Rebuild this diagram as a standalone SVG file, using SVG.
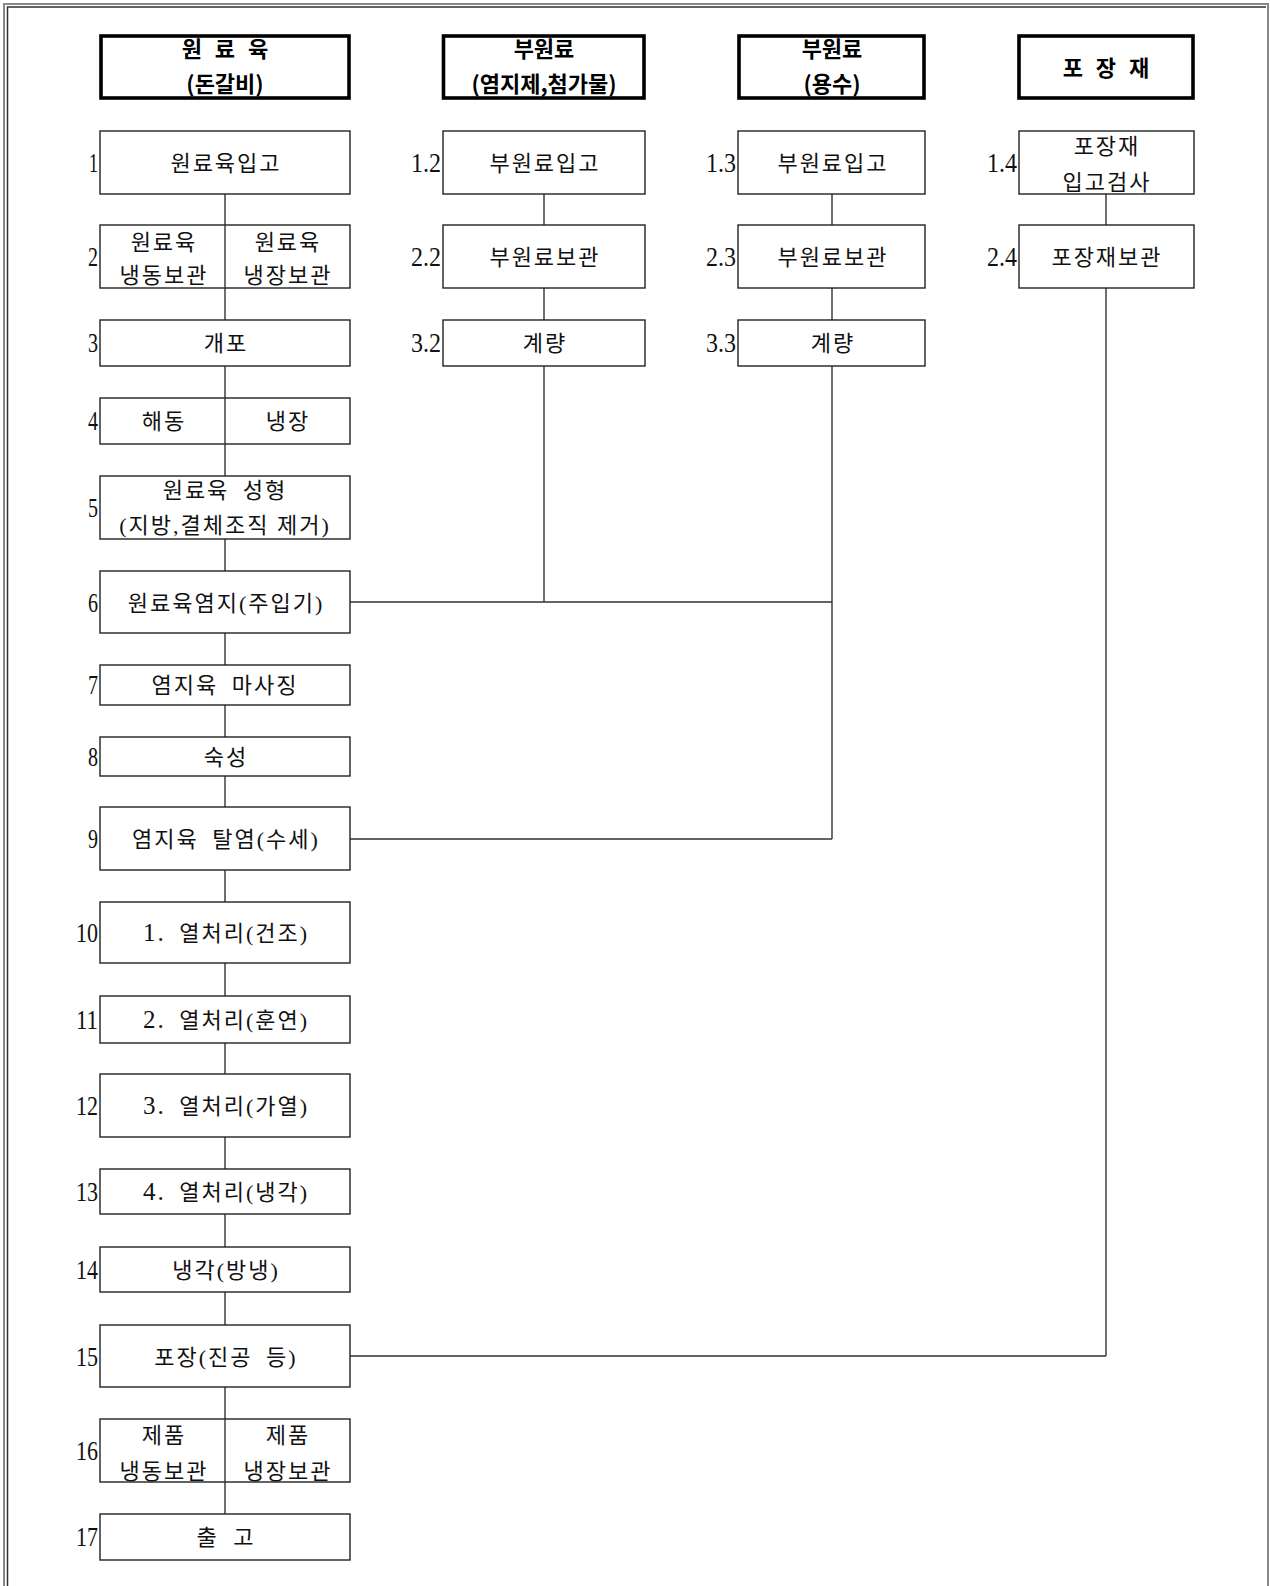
<svg xmlns="http://www.w3.org/2000/svg" width="1270" height="1586" viewBox="0 0 1270 1586">
<style>
.bx{fill:#fff;stroke:#222;stroke-width:1.4}
.hd{fill:#fff;stroke:#000;stroke-width:3.6}
.ln{stroke:#333;stroke-width:1.4;fill:none}
.t{font-family:'Liberation Serif','Noto Sans CJK KR',serif;font-size:22px;letter-spacing:2px;text-anchor:middle;fill:#111}
.d{font-size:25px}
.h{font-family:'Noto Sans CJK KR','Liberation Sans',sans-serif;font-size:22px;font-weight:bold;text-anchor:middle;fill:#000}
.n{font-family:'Liberation Serif',serif;font-size:27px;text-anchor:end;fill:#111}
</style>
<rect width="1270" height="1586" fill="#fff"/>
<g id="frame" fill="none">
<path d="M4 1586V4H1268V1586" stroke="#888" stroke-width="2"/>
<path d="M7.5 1586V7H1266" stroke="#333" stroke-width="1.5"/>
</g>

<g id="connectors" class="ln">
<path d="M225 194V225M225 288V320M225 366V398M225 444V476M225 539V571M225 633V665M225 705V737M225 776V807M225 870V902M225 963V996M225 1043V1074M225 1137V1169M225 1214V1247M225 1292V1325M225 1387V1419M225 1482V1514"/>
<path d="M544 194V225M544 288V320M544 366V602"/>
<path d="M832 194V225M832 288V320M832 366V839"/>
<path d="M1106 194V225M1106 288V1356"/>
<path d="M350 602H832M350 839H832M350 1356H1106"/>
</g>

<g id="h1"><rect class="hd" x="101" y="36" width="248" height="62"/><text class="h" x="225" y="57" word-spacing="8">원 료 육</text><text class="h" x="225" y="92">(돈갈비)</text></g>
<g id="h2"><rect class="hd" x="443.5" y="36" width="200.5" height="62"/><text class="h" x="544" y="57">부원료</text><text class="h" x="544" y="92">(염지제,첨가물)</text></g>
<g id="h3"><rect class="hd" x="739" y="36" width="185" height="62"/><text class="h" x="832" y="57">부원료</text><text class="h" x="832" y="92">(용수)</text></g>
<g id="h4"><rect class="hd" x="1019" y="36" width="174" height="62"/><text class="h" x="1106" y="76" word-spacing="8">포 장 재</text></g>

<g id="n1"><rect class="bx" x="100" y="131" width="250" height="63"/><text class="n" x="98" y="172" textLength="9" lengthAdjust="spacingAndGlyphs">1</text><text class="t" x="226" y="171">원료육입고</text></g>
<g id="n2"><rect class="bx" x="100" y="225" width="250" height="63"/><path class="ln" d="M225 225V288"/><text class="n" x="98" y="266" textLength="10" lengthAdjust="spacingAndGlyphs">2</text><text class="t" x="164" y="250">원료육</text><text class="t" x="164" y="283">냉동보관</text><text class="t" x="288" y="250">원료육</text><text class="t" x="288" y="283">냉장보관</text></g>
<g id="n3"><rect class="bx" x="100" y="320" width="250" height="46"/><text class="n" x="98" y="352" textLength="10" lengthAdjust="spacingAndGlyphs">3</text><text class="t" x="226" y="351">개포</text></g>
<g id="n4"><rect class="bx" x="100" y="398" width="250" height="46"/><path class="ln" d="M225 398V444"/><text class="n" x="98" y="430" textLength="10" lengthAdjust="spacingAndGlyphs">4</text><text class="t" x="164" y="429">해동</text><text class="t" x="288" y="429">냉장</text></g>
<g id="n5"><rect class="bx" x="100" y="476" width="250" height="63"/><text class="n" x="98" y="517" textLength="10" lengthAdjust="spacingAndGlyphs">5</text><text class="t" x="225" y="498" word-spacing="6">원료육 성형</text><text class="t" x="225" y="533" letter-spacing="1">(지방,결체조직 제거)</text></g>
<g id="n6"><rect class="bx" x="100" y="571" width="250" height="62"/><text class="n" x="98" y="612" textLength="10" lengthAdjust="spacingAndGlyphs">6</text><text class="t" x="226" y="611">원료육염지(주입기)</text></g>
<g id="n7"><rect class="bx" x="100" y="665" width="250" height="40"/><text class="n" x="98" y="694" textLength="10" lengthAdjust="spacingAndGlyphs">7</text><text class="t" x="225" y="693" word-spacing="6">염지육 마사징</text></g>
<g id="n8"><rect class="bx" x="100" y="737" width="250" height="39"/><text class="n" x="98" y="766" textLength="10" lengthAdjust="spacingAndGlyphs">8</text><text class="t" x="226" y="765">숙성</text></g>
<g id="n9"><rect class="bx" x="100" y="807" width="250" height="63"/><text class="n" x="98" y="848" textLength="10" lengthAdjust="spacingAndGlyphs">9</text><text class="t" x="226" y="847" word-spacing="6">염지육 탈염(수세)</text></g>
<g id="n10"><rect class="bx" x="100" y="902" width="250" height="61"/><text class="n" x="98" y="942" textLength="22" lengthAdjust="spacingAndGlyphs">10</text><text class="t" x="226" y="941" word-spacing="6"><tspan class="d">1.</tspan> 열처리(건조)</text></g>
<g id="n11"><rect class="bx" x="100" y="996" width="250" height="47"/><text class="n" x="98" y="1029" textLength="22" lengthAdjust="spacingAndGlyphs">11</text><text class="t" x="226" y="1028" word-spacing="6"><tspan class="d">2.</tspan> 열처리(훈연)</text></g>
<g id="n12"><rect class="bx" x="100" y="1074" width="250" height="63"/><text class="n" x="98" y="1115" textLength="22" lengthAdjust="spacingAndGlyphs">12</text><text class="t" x="226" y="1114" word-spacing="6"><tspan class="d">3.</tspan> 열처리(가열)</text></g>
<g id="n13"><rect class="bx" x="100" y="1169" width="250" height="45"/><text class="n" x="98" y="1201" textLength="22" lengthAdjust="spacingAndGlyphs">13</text><text class="t" x="226" y="1200" word-spacing="6"><tspan class="d">4.</tspan> 열처리(냉각)</text></g>
<g id="n14"><rect class="bx" x="100" y="1247" width="250" height="45"/><text class="n" x="98" y="1279" textLength="22" lengthAdjust="spacingAndGlyphs">14</text><text class="t" x="226" y="1278">냉각(방냉)</text></g>
<g id="n15"><rect class="bx" x="100" y="1325" width="250" height="62"/><text class="n" x="98" y="1366" textLength="22" lengthAdjust="spacingAndGlyphs">15</text><text class="t" x="226" y="1365" word-spacing="6">포장(진공 등)</text></g>
<g id="n16"><rect class="bx" x="100" y="1419" width="250" height="63"/><path class="ln" d="M225 1419V1482"/><text class="n" x="98" y="1460" textLength="22" lengthAdjust="spacingAndGlyphs">16</text><text class="t" x="164" y="1443">제품</text><text class="t" x="164" y="1479">냉동보관</text><text class="t" x="288" y="1443">제품</text><text class="t" x="288" y="1479">냉장보관</text></g>
<g id="n17"><rect class="bx" x="100" y="1514" width="250" height="46"/><text class="n" x="98" y="1546" textLength="22" lengthAdjust="spacingAndGlyphs">17</text><text class="t" x="226" y="1545" word-spacing="7">출 고</text></g>

<g id="n1_2"><rect class="bx" x="443" y="131" width="202" height="63"/><text class="n" x="441" y="172" textLength="30" lengthAdjust="spacingAndGlyphs">1.2</text><text class="t" x="545" y="171">부원료입고</text></g>
<g id="n2_2"><rect class="bx" x="443" y="225" width="202" height="63"/><text class="n" x="441" y="266" textLength="30" lengthAdjust="spacingAndGlyphs">2.2</text><text class="t" x="545" y="265">부원료보관</text></g>
<g id="n3_2"><rect class="bx" x="443" y="320" width="202" height="46"/><text class="n" x="441" y="352" textLength="30" lengthAdjust="spacingAndGlyphs">3.2</text><text class="t" x="545" y="351">계량</text></g>

<g id="n1_3"><rect class="bx" x="738" y="131" width="187" height="63"/><text class="n" x="736" y="172" textLength="30" lengthAdjust="spacingAndGlyphs">1.3</text><text class="t" x="833" y="171">부원료입고</text></g>
<g id="n2_3"><rect class="bx" x="738" y="225" width="187" height="63"/><text class="n" x="736" y="266" textLength="30" lengthAdjust="spacingAndGlyphs">2.3</text><text class="t" x="833" y="265">부원료보관</text></g>
<g id="n3_3"><rect class="bx" x="738" y="320" width="187" height="46"/><text class="n" x="736" y="352" textLength="30" lengthAdjust="spacingAndGlyphs">3.3</text><text class="t" x="833" y="351">계량</text></g>

<g id="n1_4"><rect class="bx" x="1019" y="131" width="175" height="63"/><text class="n" x="1017" y="172" textLength="30" lengthAdjust="spacingAndGlyphs">1.4</text><text class="t" x="1107" y="154">포장재</text><text class="t" x="1107" y="190">입고검사</text></g>
<g id="n2_4"><rect class="bx" x="1019" y="225" width="175" height="63"/><text class="n" x="1017" y="266" textLength="30" lengthAdjust="spacingAndGlyphs">2.4</text><text class="t" x="1107" y="265">포장재보관</text></g>
</svg>
